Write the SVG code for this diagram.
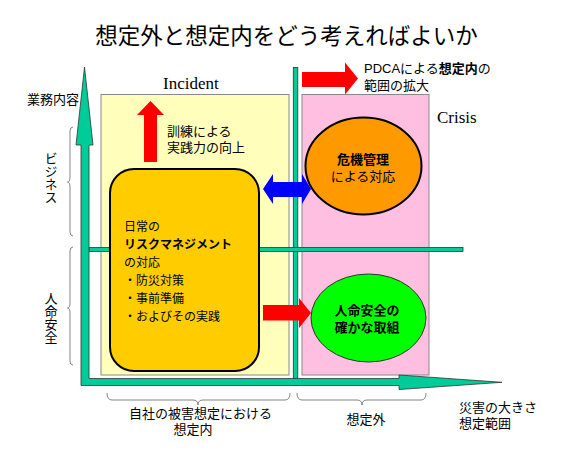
<svg xmlns="http://www.w3.org/2000/svg" width="563" height="450" viewBox="0 0 563 450">
<style>
text { font-family: "Liberation Sans", "Noto Sans CJK JP", sans-serif; fill: #000; }
.ttl { font-size: 22.5px; text-anchor: middle; }
.lbl { font-size: 13px; }
.box { font-size: 12px; }
.ser { font-family: "Liberation Serif", "Noto Serif CJK JP", serif; font-size: 17px; }
.mid { text-anchor: middle; }
.b { font-weight: bold; }
.vt { font-size: 13px; writing-mode: vertical-rl; text-orientation: upright; }
.teal { fill: #00CC99; stroke: #333; stroke-width: 0.8; }
.brace { fill: none; stroke: #666; stroke-width: 0.8; }
.red { fill: #FF0000; }
.blue { fill: #0000FF; }
</style>
<rect width="563" height="450" fill="#FFFFFF"/>
<text class="ttl" x="286.5" y="43.5">想定外と想定内をどう考えればよいか</text>

<g id="incident-area">
<rect x="101" y="94.5" width="188" height="280.5" fill="#FFFFBB" stroke="#888" stroke-width="1"/>
<text class="ser" x="163" y="88.5">Incident</text>
</g>
<g id="crisis-area">
<rect x="302" y="94.5" width="127" height="280.5" fill="#FFBFE0" stroke="#888" stroke-width="1"/>
<text class="ser" x="437" y="122.5">Crisis</text>
</g>

<g id="axes">
<rect class="teal" x="293.3" y="67.5" width="4.5" height="318"/>
<rect class="teal" x="89" y="247.5" width="374" height="4"/>
<polygon class="teal" points="84.5,67 93,145 89,145 89,378.5 399,378.5 399,375 502,382.3 399,389.5 399,385.5 81,385.5 81,145 76,145"/>
<text class="lbl" x="27" y="104">業務内容</text>
<text class="vt" x="50" y="152">ビジネス</text>
<text class="vt" x="50" y="292">人命安全</text>
<text class="lbl" x="459" y="412">災害の大きさ</text>
<text class="lbl" x="459" y="427.5">想定範囲</text>
</g>

<g id="braces">
<path class="brace" d="M73,127 Q70,127 70,131 L70,177 Q70,182 67.5,182 Q70,182 70,187 L70,232 Q70,236 73,236"/>
<path class="brace" d="M73,247 Q70,247 70,251 L70,303 Q70,308 67.5,308 Q70,308 70,313 L70,361 Q70,365 73,365"/>
<path class="brace" d="M107,393 Q107,400 112,400 L193,400 Q198,400 198,405 Q198,400 203,400 L285,400 Q290,400 290,393"/>
<path class="brace" d="M297,393 Q297,400 302,400 L357,400 Q362,400 362,405 Q362,400 367,400 L421,400 Q426,400 426,393"/>
<text class="lbl mid" x="200.5" y="418">自社の被害想定における</text>
<text class="lbl mid" x="193" y="434">想定内</text>
<text class="lbl mid" x="366" y="424">想定外</text>
</g>

<g id="risk-management">
<rect x="110" y="169" width="149" height="202" rx="24" ry="24" fill="#FFCC00" stroke="#000" stroke-width="2"/>
<text class="box" x="124" y="230.5">日常の</text>
<text class="box b" x="124" y="248.5">リスクマネジメント</text>
<text class="box" x="124" y="266.5">の対応</text>
<text class="box" x="124" y="284.5">・防災対策</text>
<text class="box" x="124" y="302.5">・事前準備</text>
<text class="box" x="124" y="320.5">・およびその実践</text>
</g>

<g id="crisis-management">
<ellipse cx="363.5" cy="166" rx="58" ry="48.5" fill="#FF9900" stroke="#000" stroke-width="2"/>
<text class="lbl mid b" x="363" y="164">危機管理</text>
<text class="lbl mid" x="363" y="180.5">による対応</text>
</g>

<g id="life-safety">
<ellipse cx="368.5" cy="318" rx="57.5" ry="44" fill="#00FF00" stroke="#333" stroke-width="1"/>
<text class="lbl mid b" x="367" y="315">人命安全の</text>
<text class="lbl mid b" x="367" y="332">確かな取組</text>
</g>

<g id="training">
<text class="lbl" x="167" y="135.5">訓練による</text>
<text class="lbl" x="167" y="151.5">実践力の向上</text>
</g>

<g id="pdca">
<text class="lbl" x="364" y="73">PDCAによる<tspan class="b">想定内</tspan>の</text>
<text class="lbl" x="364" y="89.5">範囲の拡大</text>
</g>

<g id="connectors">
<polygon class="red" points="150.5,101 164,115 157,115 157,162 144,162 144,115 137,115"/>
<polygon class="red" points="302,72 345,72 345,62.5 358,78.5 345,94.5 345,87 302,87"/>
<polygon class="blue" points="263,189 273,174 273,182 302,182 302,174 311,189 302,204 302,197 273,197 273,204"/>
<polygon class="red" points="263,305 299,305 299,298 311,313 299,328 299,320.5 263,320.5"/>
</g>
</svg>
